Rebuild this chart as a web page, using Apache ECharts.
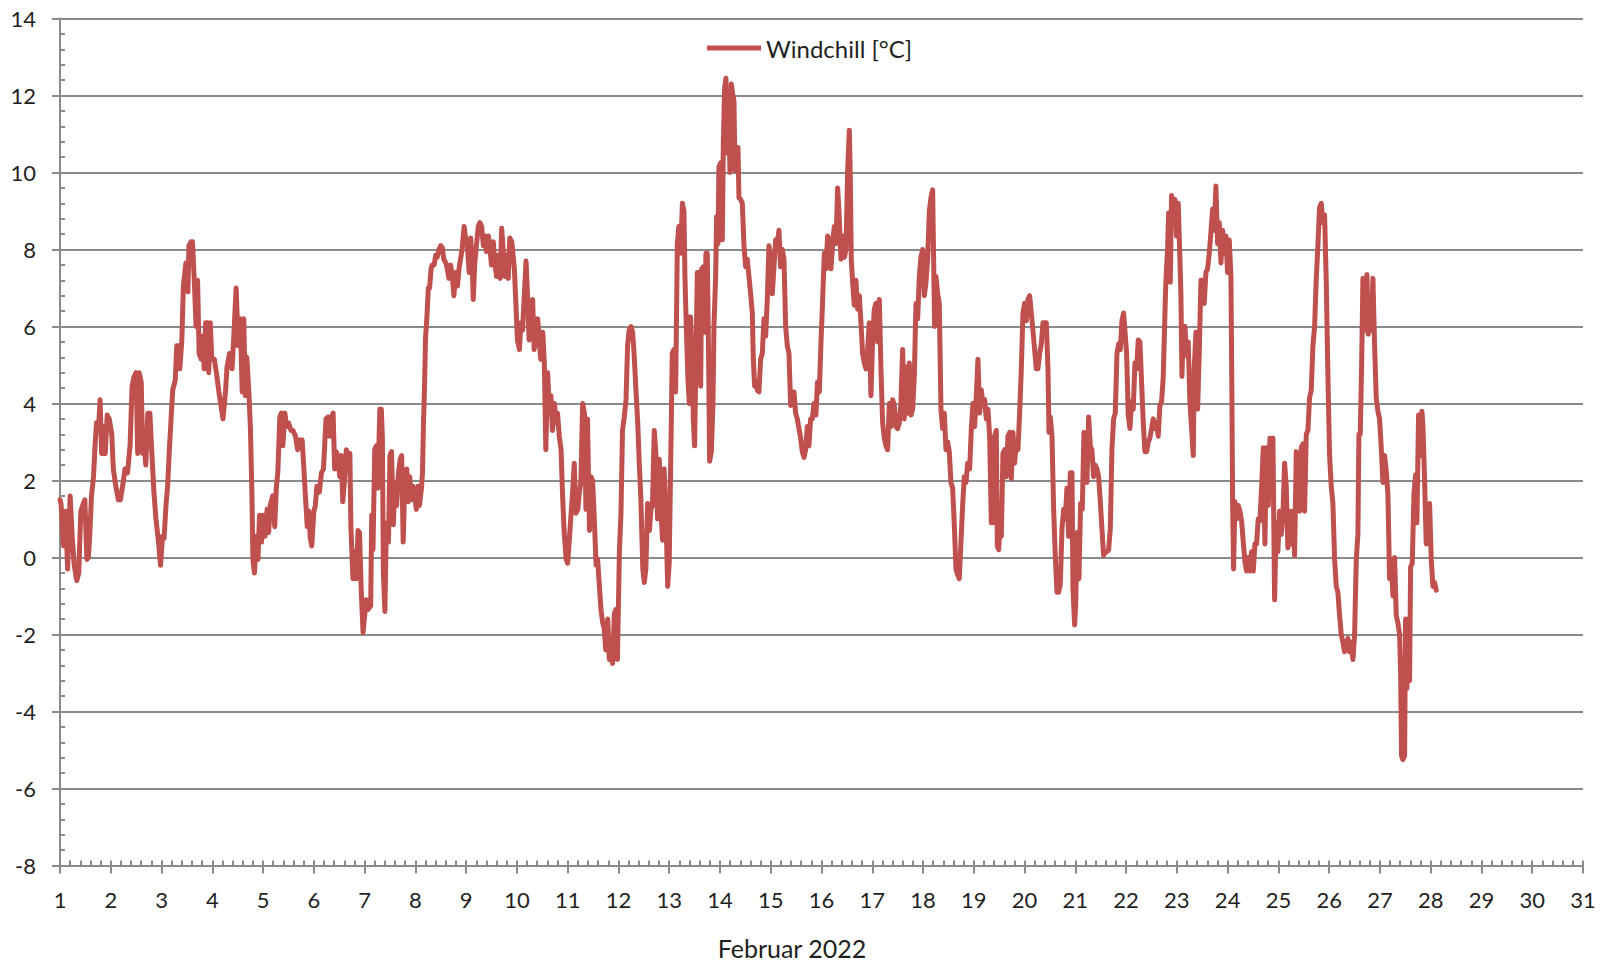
<!DOCTYPE html>
<html>
<head>
<meta charset="utf-8">
<script src="https://cdn.jsdelivr.net/npm/echarts@6/dist/echarts.min.js"></script>
<style>
html,body{margin:0;padding:0;background:#fff;}
#chart{width:1612px;height:966px;}
</style>
</head>
<body>
<div id="chart"></div>
<script>
// Windchill [°C], February 2022 — samples as [day of month, value]
const week1 = [
[1.0,1.5],[1.02,1.4],[1.07,0.3],[1.11,1.2],[1.15,-0.3],[1.20,1.6],[1.24,0.55],[1.28,-0.2],[1.33,-0.6],[1.37,-0.4],[1.41,1.2],[1.46,1.4],[1.49,1.5],[1.53,-0.05],[1.56,0],[1.59,0.7],[1.62,1.6],[1.66,2.1],[1.69,2.9],[1.72,3.5],[1.76,3.4],[1.79,4.1],[1.82,2.7],[1.85,3.4],[1.89,2.7],[1.93,3.7],[1.97,3.6],[2.02,3.2],[2.05,2.3],[2.10,1.85],[2.15,1.5],[2.19,1.5],[2.25,2.0],[2.28,2.3],[2.33,2.2],[2.38,2.9],[2.42,4.45],[2.46,4.7],[2.50,4.8],[2.53,2.7],[2.56,4.8],[2.60,4.55],[2.63,2.7],[2.66,2.9],[2.69,2.4],[2.73,3.75],[2.77,3.75],[2.81,2.7],[2.85,1.7],[2.89,1.0],[2.94,0.4],[2.98,-0.2],[3.02,0.55],[3.05,0.5],[3.09,1.4],[3.12,1.85],[3.15,2.7],[3.19,3.65],[3.22,4.35],[3.27,4.6],[3.30,5.5],[3.33,5.5],[3.36,4.9],[3.40,5.65],[3.43,7.05],[3.48,7.65],[3.52,6.9],[3.54,8.1],[3.58,8.2],[3.61,8.2],[3.65,7.05],[3.68,6.0],[3.71,7.2],[3.74,5.3],[3.78,5.15],[3.81,5.75],[3.84,4.9],[3.87,6.1],
[3.90,6.1],[3.93,4.8],[3.96,6.1],[3.99,5.15],[4.04,5.15],[4.08,4.8],[4.13,4.3],[4.17,3.95],[4.21,3.6],[4.26,4.3],[4.29,4.95],[4.34,5.3],[4.39,4.9],[4.42,5.65],[4.47,7.0],[4.51,5.5],[4.55,6.2],[4.59,4.3],[4.62,6.2],[4.65,4.2],[4.68,5.2],[4.72,4.3],[4.75,3.4],[4.78,1.7],[4.80,-0.05],[4.83,-0.4],[4.87,0.55],[4.90,-0.05],[4.93,1.1],[4.97,0.4],[5.00,1.1],[5.04,0.55],[5.08,1.25],[5.11,0.65],[5.14,1.35],[5.19,1.6],[5.23,0.8],[5.26,1.8],[5.29,2.2],[5.33,3.65],[5.36,3.75],[5.39,2.9],[5.43,3.75],[5.46,3.4],[5.50,3.5],[5.55,3.3],[5.59,3.3],[5.64,3.15],[5.68,2.8],[5.72,3.05],[5.77,3.05],[5.80,2.4],[5.83,1.7],[5.87,0.8],[5.90,1.2],[5.93,0.5],[5.96,0.3],[6.00,1.2],[6.03,1.35],[6.06,1.85],[6.11,1.7],[6.15,2.2],[6.19,2.3],[6.24,3.6],[6.28,3.65],[6.31,3.15],[6.34,3.6],[6.38,3.75],[6.41,2.3],[6.44,2.75],[6.48,2.55],[6.51,2.1],[6.54,2.65],[6.57,1.45],[6.61,2.1],[6.64,2.8],[6.67,2.7],[6.71,2.7],[6.73,0.8],[6.77,-0.55],[6.80,0.15],[6.84,-0.55],[6.87,0.7],[6.90,0.65],[6.935,-0.9],[6.97,-1.95]
];
const week2 = [
[7.03,-1.1],[7.07,-1.35],[7.12,-1.25],[7.14,1.1],[7.165,0.2],[7.20,2.8],[7.23,2.9],[7.26,1.8],[7.30,3.85],[7.33,3.85],[7.35,3.1],[7.37,-0.4],[7.40,-1.4],[7.43,0.9],[7.47,0.4],[7.50,2.65],[7.53,2.75],[7.565,0.85],[7.60,1.95],[7.63,1.35],[7.66,2.1],[7.70,2.55],[7.73,2.65],[7.76,0.4],[7.795,2.05],[7.83,2.3],[7.86,1.45],[7.89,2.1],[7.92,1.5],[7.95,1.85],[7.985,1.6],[8.02,1.25],[8.05,1.85],[8.08,1.35],[8.12,1.8],[8.14,2.2],[8.16,3.5],[8.18,4.4],[8.20,5.7],[8.23,6.3],[8.255,7.0],[8.28,7.0],[8.31,7.5],[8.33,7.6],[8.37,7.6],[8.40,7.85],[8.43,7.8],[8.465,8.0],[8.50,8.1],[8.53,8.05],[8.56,7.75],[8.60,7.65],[8.63,7.5],[8.66,7.25],[8.695,7.6],[8.73,7.25],[8.76,6.8],[8.79,7.4],[8.83,7.05],[8.86,7.5],[8.89,7.75],[8.92,8.0],[8.96,8.6],[8.99,8.3],[9.02,8.2],[9.06,7.4],[9.09,8.3],[9.12,7.6],[9.14,6.7],[9.17,7.65],[9.21,8.2],[9.24,8.6],[9.27,8.7],[9.305,8.6],[9.34,8.1],[9.37,8.35],[9.40,7.95],[9.44,8.35],[9.47,8.0],[9.50,7.6],[9.535,8.2],[9.57,7.6],[9.60,7.3],[9.63,7.85],[9.67,7.25],[9.70,8.55],[9.73,8.0],[9.765,7.3],[9.80,7.85],[9.83,7.25],[9.86,8.3],[9.90,8.2],
[9.95,7.5],[9.98,6.6],[10.01,5.65],[10.05,5.4],[10.08,6.1],[10.11,5.9],[10.15,6.9],[10.18,7.7],[10.21,6.8],[10.24,5.65],[10.28,5.9],[10.31,6.7],[10.34,5.4],[10.375,5.65],[10.41,6.2],[10.44,5.65],[10.47,5.15],[10.51,5.85],[10.54,5.05],[10.57,2.8],[10.605,4.8],[10.64,3.85],[10.67,4.2],[10.70,3.3],[10.74,4.0],[10.77,3.5],[10.80,3.75],[10.835,3.15],[10.87,2.8],[10.90,1.6],[10.93,0.7],[10.97,-0.05],[11.00,-0.15],[11.03,0.4],[11.065,1.1],[11.10,1.75],[11.13,2.45],[11.16,1.15],[11.20,1.25],[11.23,1.7],[11.26,1.95],[11.295,4.0],[11.33,3.75],[11.36,1.25],[11.39,3.6],[11.43,0.7],[11.46,2.1],[11.49,2.0],[11.52,1.15],[11.56,-0.2],[11.59,-0.05],[11.62,-0.65],[11.656,-1.35],[11.69,-1.7],[11.72,-1.85],[11.75,-2.4],[11.79,-1.6],[11.82,-2.65],[11.85,-2.3],[11.885,-2.75],[11.92,-1.45],[11.95,-1.35],[11.98,-2.65],[12.02,0.2],[12.05,1.15],[12.08,3.3],[12.115,3.65],[12.15,4.1],[12.18,5.5],[12.21,5.9],[12.247,6.0],[12.28,5.85],[12.31,5.25],[12.345,4.35],[12.38,3.5],[12.41,2.45],[12.44,1.6],[12.48,-0.3],[12.51,-0.65],[12.54,-0.3],[12.575,1.4],[12.61,0.7],[12.64,1.25],[12.67,1.35],[12.706,3.3],[12.74,2.65],[12.77,1.0],[12.805,2.55],[12.84,1.15],[12.87,0.45],[12.90,2.3],[12.936,1.15],[12.97,-0.75],[13.00,-0.15],
[13.04,3.4],[13.06,5.3],[13.09,5.4],[13.127,4.3],[13.16,8.15],[13.19,8.6],[13.225,7.9],[13.26,9.2],[13.29,9.0],[13.31,7.3],[13.34,5.85],[13.37,4.6],[13.396,4.0],[13.42,6.25],[13.455,5.15],[13.475,3.6],[13.50,2.9],[13.527,5.15],[13.554,7.4],[13.586,7.4],[13.62,4.45],[13.64,7.5],[13.672,7.55],[13.698,5.85],[13.724,7.9],[13.75,7.9],[13.777,5.15],[13.796,2.5],[13.83,2.75],[13.862,4.0],[13.882,6.0],[13.915,7.3],[13.934,8.85],[13.96,8.15],[13.98,10.15]
];
const week3 = [
[14.013,10.25],[14.046,8.25],[14.066,10.75],[14.092,12.2],[14.118,12.45],[14.145,10.5],[14.177,11.35],[14.197,10.0],[14.223,12.3],[14.25,12.05],[14.276,11.85],[14.296,10.05],[14.328,10.5],[14.355,10.65],[14.374,9.35],[14.407,9.3],[14.44,9.2],[14.473,8.1],[14.506,7.55],[14.538,7.75],[14.571,7.3],[14.604,6.85],[14.637,6.35],[14.657,5.15],[14.683,4.45],[14.709,4.6],[14.735,4.35],[14.768,4.3],[14.801,5.15],[14.834,5.3],[14.867,6.2],[14.90,5.75],[14.932,6.7],[14.965,8.1],[14.998,7.75],[15.031,6.85],[15.064,7.55],[15.097,8.25],[15.13,8.15],[15.162,8.5],[15.195,7.55],[15.228,8.0],[15.261,7.75],[15.294,6.0],[15.326,5.5],[15.359,5.3],[15.392,3.95],[15.425,4.3],[15.458,4.3],[15.49,3.75],[15.523,3.6],[15.556,3.35],[15.589,3.1],[15.622,2.75],[15.655,2.6],[15.687,2.8],[15.72,3.4],[15.753,2.9],[15.786,3.6],[15.819,3.6],[15.852,4.0],
[15.89,3.7],[15.92,4.55],[15.957,4.3],[15.99,5.6],[16.02,6.6],[16.055,7.9],[16.088,7.5],[16.12,8.35],[16.154,8.25],[16.186,7.5],[16.22,8.15],[16.252,8.6],[16.285,8.15],[16.318,9.6],[16.35,8.85],[16.383,7.75],[16.416,8.35],[16.45,7.8],[16.482,8.0],[16.515,10.05],[16.548,11.1],[16.567,9.9],[16.587,7.75],[16.613,7.15],[16.646,6.55],[16.679,7.2],[16.712,6.45],[16.745,6.8],[16.777,6.1],[16.81,5.3],[16.843,5.05],[16.876,4.9],[16.909,5.4],[16.942,6.1],[16.974,4.2],[17.007,5.65],[17.04,6.45],[17.073,6.6],[17.106,5.6],[17.139,6.7],[17.171,4.9],[17.204,3.5],[17.237,3.1],[17.27,2.9],[17.303,2.8],[17.336,4.0],[17.368,3.4],[17.401,4.1],[17.434,3.95],[17.467,3.4],[17.5,3.35],[17.533,3.5],[17.565,4.0],[17.598,5.4],[17.631,3.6],[17.664,4.95],[17.697,3.75],[17.73,5.05],[17.762,3.7],[17.795,3.85],[17.828,4.7],[17.861,6.6],[17.894,6.2],[17.927,7.3],[17.959,7.8],[17.992,8.0],[18.025,6.8],[18.058,7.15],[18.091,7.75],[18.124,9.0],[18.156,9.35],[18.189,9.55],[18.209,7.75],[18.228,6.0],[18.255,7.3],[18.288,6.85],[18.32,6.6],[18.353,3.85],[18.386,3.35],[18.419,3.75],[18.452,2.8],[18.485,3.0],[18.517,2.75],[18.55,1.95],[18.583,1.8],[18.616,0.85],[18.649,-0.3],[18.682,-0.45],[18.714,-0.55],[18.747,0.4],[18.78,1.35],[18.813,2.1],[18.846,1.95],[18.879,2.45],
[18.918,2.3],[18.95,3.3],[18.983,4.0],[19.016,3.4],[19.049,4.2],[19.082,5.15],[19.115,3.75],[19.148,4.35],[19.18,4.0],[19.213,4.1],[19.246,3.6],[19.279,3.85],[19.312,3.15],[19.345,0.9],[19.377,0.9],[19.41,3.15],[19.443,3.3],[19.463,0.3],[19.489,0.2],[19.515,0.75],[19.542,0.55],[19.574,2.7],[19.607,2.8],[19.64,2.1],[19.673,3.15],[19.706,3.25],[19.739,2.05],[19.771,3.25],[19.804,2.45],[19.837,3.0],[19.87,2.8],[19.903,3.75],[19.936,4.9],[19.968,6.35],[20.001,6.6],[20.034,6.15],[20.067,6.7],[20.1,6.8],[20.133,6.35],[20.165,5.9],[20.198,5.4],[20.231,4.9],[20.264,4.9],[20.297,5.3],[20.33,5.55],[20.362,6.1],[20.395,6.1],[20.428,6.1],[20.461,4.9],[20.481,3.25],[20.507,3.65],[20.54,3.15],[20.573,1.25],[20.605,0.05],[20.638,-0.9],[20.671,-0.9],[20.704,-0.7],[20.737,0.75],[20.77,1.25],[20.802,1.0],[20.835,1.8],[20.868,0.55],[20.901,2.2],[20.934,2.2],[20.953,-0.8],[20.986,-1.75]
];
const week4 = [
[21.006,-1.25],[21.039,0.65],[21.071,-0.55],[21.104,1.4],[21.137,1.25],[21.17,3.25],[21.196,3.0],[21.229,1.95],[21.262,3.65],[21.295,2.9],[21.327,2.8],[21.36,2.1],[21.393,2.4],[21.426,2.3],[21.459,2.1],[21.492,1.45],[21.524,0.75],[21.557,0.05],[21.59,0.15],[21.623,0.15],[21.656,0.2],[21.689,0.75],[21.721,2.8],[21.754,3.6],[21.787,3.75],[21.82,5.3],[21.853,5.55],[21.886,5.4],[21.918,6.15],[21.951,6.35],
[22.01,5.3],[22.042,3.7],[22.075,3.35],[22.108,4.05],[22.141,3.85],[22.174,5.05],[22.207,4.9],[22.239,5.65],[22.272,5.6],[22.305,4.55],[22.338,3.5],[22.371,2.75],[22.404,2.75],[22.436,3.0],[22.469,3.1],[22.502,3.35],[22.535,3.6],[22.568,3.35],[22.6,3.5],[22.633,3.15],[22.666,3.95],[22.699,4.05],[22.732,4.7],[22.765,6.35],[22.784,7.2],[22.817,8.0],[22.837,8.95],[22.87,7.15],[22.896,9.4],[22.929,9.1],[22.962,9.3],[22.995,8.35],[23.027,9.2],[23.06,7.75],[23.08,6.8],[23.1,4.7],[23.126,5.95],[23.159,6.0],[23.191,5.25],[23.224,5.6],[23.257,4.05],[23.29,3.35],[23.323,2.65],[23.342,4.9],[23.375,5.85],[23.408,3.85],[23.441,5.3],[23.474,7.2],[23.507,7.2],[23.539,6.6],[23.572,7.4],[23.605,7.5],[23.638,7.9],[23.671,8.45],[23.704,9.05],[23.736,8.5],[23.769,9.65],[23.802,8.15],[23.835,8.7],[23.868,7.65],[23.901,8.5],[23.934,7.9],[23.966,8.35],[23.999,7.4],[24.032,8.25],[24.065,7.3],[24.085,4.05],[24.098,1.45],[24.117,-0.3],[24.144,1.45],[24.176,1.0],[24.209,1.35],[24.242,1.2],[24.275,0.95],[24.308,0.4],[24.34,-0.1],[24.373,-0.35],[24.406,0.0],[24.439,-0.35],[24.472,0.15],[24.505,-0.35],[24.537,0.35],[24.57,0.35],[24.603,1.0],[24.636,0.95],[24.669,1.8],[24.702,2.85],[24.734,0.35],[24.767,2.85],[24.8,1.35],[24.833,3.1],[24.866,3.0],
[24.892,3.1],[24.925,-1.1],[24.958,0.9],[24.99,0.15],[25.023,1.2],[25.056,0.6],[25.089,1.1],[25.122,2.45],[25.155,1.85],[25.187,0.25],[25.22,1.2],[25.253,0.35],[25.286,1.2],[25.319,0.05],[25.352,2.75],[25.384,2.65],[25.417,1.2],[25.45,2.85],[25.483,2.95],[25.516,1.2],[25.549,3.2],[25.581,3.3],[25.614,4.15],[25.647,4.35],[25.68,5.5],[25.713,6.0],[25.746,7.25],[25.778,8.1],[25.811,9.1],[25.844,9.2],[25.877,8.7],[25.91,8.9],[25.943,7.15],[25.975,4.75],[26.008,2.65],[26.041,1.85],[26.074,1.4],[26.107,-0.05],[26.14,-0.75],[26.172,-0.9],[26.205,-1.5],[26.238,-2.0],[26.271,-2.2],[26.304,-2.45],[26.337,-2.25],[26.369,-2.1],[26.402,-2.45],[26.435,-2.2],[26.468,-2.65],[26.501,-2.0],[26.534,-0.05],[26.566,0.6],[26.586,3.2],[26.612,3.2],[26.639,4.95],[26.665,7.25],[26.691,7.25],[26.717,5.9],[26.744,7.35],[26.77,5.8],[26.796,6.75],[26.829,5.9],[26.862,7.25],[26.895,5.5],[26.927,4.15],[26.96,3.8],[26.993,3.6],[27.026,2.85],[27.059,1.95],[27.092,2.65],[27.124,2.25],[27.157,1.65],[27.19,-0.55],[27.223,-0.05],[27.256,-1.0],[27.289,0.0],[27.321,-1.5],[27.354,-1.7],[27.387,-2.0],[27.407,-2.95],[27.426,-5.15],[27.453,-5.25],[27.486,-5.15],[27.505,-1.6],[27.532,-3.4],[27.558,-1.6],[27.584,-3.2],[27.604,-0.25],[27.637,-0.15],[27.67,1.65],[27.702,2.15],[27.728,0.9],[27.761,3.7],[27.794,2.65],[27.827,3.8],[27.847,3.4],[27.879,2.05],[27.912,0.35],[27.945,1.3],[27.978,1.4],[28.011,-0.05],[28.044,-0.75],[28.076,-0.65],[28.109,-0.85]
];

const seriesName = 'Windchill [°C]';
const xAxisTitle = 'Februar 2022';
const dayRange = [1, 31];
const valueRange = [-8, 14];

const windchill = week1.concat(week2, week3, week4);

const FONT = 'Lato, "Open Sans", sans-serif';
const AXIS_GREY = '#8a8a8a';
const TEXT = '#1f1f1f';
const LINE_RED = '#C0504D';

const chart = echarts.init(document.getElementById('chart'), null, {renderer: 'svg'});
chart.setOption({
  animation: false,
  backgroundColor: '#ffffff',
  textStyle: {fontFamily: FONT},
  grid: {left: 60, right: 29, top: 18.5, bottom: 100.5, containLabel: false},
  legend: {
    data: [{name: seriesName, icon: 'rect'}],
    left: 707, top: 36, padding: 0,
    itemWidth: 54, itemHeight: 5,
    textStyle: {fontSize: 24, color: TEXT, fontFamily: FONT}
  },
  graphic: [{
    type: 'text', x: 792, y: 948, z: 10,
    style: {text: xAxisTitle, textAlign: 'center', textVerticalAlign: 'middle',
      fontSize: 25, lineHeight: 25, fontFamily: FONT, fill: TEXT}
  }],
  xAxis: [{
    type: 'value', min: dayRange[0], max: dayRange[1], interval: 1,
    axisLine: {show: true, onZero: false, lineStyle: {color: AXIS_GREY, width: 2}},
    axisTick: {show: true, inside: false, length: 8, lineStyle: {color: AXIS_GREY, width: 2}},
    axisLabel: {fontSize: 22, color: TEXT, margin: 23, fontFamily: FONT},
    splitLine: {show: false}
  }, {
    type: 'value', min: dayRange[0], max: dayRange[1], interval: 0.2, position: 'bottom',
    axisLine: {show: false, onZero: false},
    axisTick: {show: true, inside: true, length: 5, lineStyle: {color: AXIS_GREY, width: 2}},
    axisLabel: {show: false},
    splitLine: {show: false}
  }],
  yAxis: [{
    type: 'value', min: valueRange[0], max: valueRange[1], interval: 2,
    axisLine: {show: true, onZero: false, lineStyle: {color: AXIS_GREY, width: 2}},
    axisTick: {show: true, inside: false, length: 8, lineStyle: {color: AXIS_GREY, width: 2}},
    axisLabel: {fontSize: 22, color: TEXT, margin: 24, fontFamily: FONT},
    splitLine: {show: true, lineStyle: {color: AXIS_GREY, width: 2}}
  }, {
    type: 'value', min: valueRange[0], max: valueRange[1], interval: 0.4, position: 'left',
    axisLine: {show: false, onZero: false},
    axisTick: {show: true, inside: true, length: 5, lineStyle: {color: AXIS_GREY, width: 2}},
    axisLabel: {show: false},
    splitLine: {show: false}
  }],
  series: [{
    name: seriesName,
    type: 'line',
    xAxisIndex: 0, yAxisIndex: 0,
    data: windchill,
    symbol: 'none', showSymbol: false,
    lineStyle: {color: LINE_RED, width: 5, join: 'round', cap: 'round'},
    itemStyle: {color: LINE_RED},
    z: 5
  }]
});
</script>
</body>
</html>
